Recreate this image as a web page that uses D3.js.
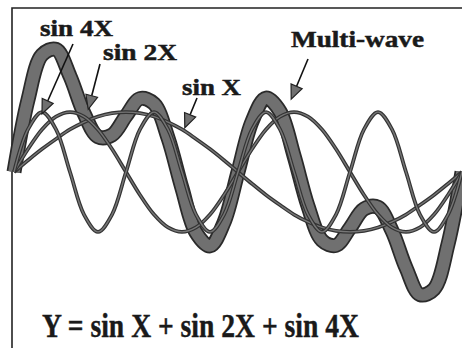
<!DOCTYPE html>
<html>
<head>
<meta charset="utf-8">
<script src="https://cdn.jsdelivr.net/npm/d3@7"></script>
<style>
  body { margin: 0; background: #fff; }
  svg { display: block; }
</style>
</head>
<body>
<div id="viz-container"></div>
<script>
let width = 462;
let height = 348;

// x is counted in sixteenths of pi, 0 .. 2 pi
let steps = [0,1,2,3,4,5,6,7,8,9,10,11,12,13,14,15,16,17,18,19,20,21,22,23,24,25,26,27,28,29,30,31,32];

// values (one unit = height of a single wave)
let sinX = [0,0.21,0.41,0.59,0.76,0.89,0.99,1.05,1.07,1.05,0.99,0.89,0.76,0.59,0.41,0.21,0,
  -0.21,-0.41,-0.59,-0.76,-0.89,-0.99,-1.05,-1.07,-1.05,-0.99,-0.89,-0.76,-0.59,-0.41,-0.21,0];
let sin2X = [0,0.41,0.76,0.99,1.07,0.99,0.76,0.41,0,-0.41,-0.76,-0.99,-1.07,-0.99,-0.76,-0.41,
  0,0.41,0.76,0.99,1.07,0.99,0.76,0.41,0,-0.41,-0.76,-0.99,-1.07,-0.99,-0.76,-0.41,0];
let sin4X = [0,0.76,1.07,0.76,0,-0.76,-1.07,-0.76,0,0.76,1.07,0.76,0,-0.76,-1.07,-0.76,
  0,0.76,1.07,0.76,0,-0.76,-1.07,-0.76,0,0.76,1.07,0.76,0,-0.76,-1.07,-0.76,0];
let multiWave = [0,1.29,2.09,2.19,1.71,1.05,0.63,0.66,1.0,1.31,1.22,0.61,-0.29,-1.08,-1.32,-0.9,
  0,0.9,1.32,1.08,0.29,-0.61,-1.22,-1.31,-1.0,-0.66,-0.63,-1.05,-1.71,-2.19,-2.09,-1.29,0];

let equation = 'Y = sin X + sin 2X + sin 4X';

let viz = d3.select('#viz-container')
  .append('svg')
  .attr('width', width)
  .attr('height', height);

let xScale = d3.scaleLinear().domain([0, 32]).range([14, 462]);
let yScale = d3.scaleLinear().domain([-1, 1]).range([228, 116]);

let line = d3.line()
  .x((d, i) => xScale(steps[i]))
  .y(d => yScale(d))
  .curve(d3.curveCatmullRom.alpha(0.5));

// frame (left and top edges only, like the scan)
viz.append('path')
  .attr('d', 'M12,348 L12,8 L462,8')
  .attr('fill', 'none')
  .attr('stroke', '#222')
  .attr('stroke-width', 1.6);

// thick multi-wave underneath
viz.append('path')
  .attr('d', line(multiWave))
  .attr('fill', 'none')
  .attr('stroke', '#2a2a2a')
  .attr('stroke-width', 15)
  .attr('stroke-linejoin', 'round');
viz.append('path')
  .attr('d', line(multiWave))
  .attr('fill', 'none')
  .attr('stroke', '#707070')
  .attr('stroke-width', 11.5)
  .attr('stroke-linejoin', 'round');

// the three single waves
[sinX, sin2X, sin4X].forEach(function(s){
  viz.append('path')
    .attr('class', 'wave')
    .attr('d', line(s))
    .attr('fill', 'none')
    .attr('stroke', '#333')
    .attr('stroke-width', 3.8);
  viz.append('path')
    .attr('d', line(s))
    .attr('fill', 'none')
    .attr('stroke', '#767676')
    .attr('stroke-width', 1.4);
});

// labels with arrows; tip is given in chart units
let notes = [
  {text: 'sin 4X', x: 40, y: 36, len: 73, from: [73, 44], tipStep: 2.0, tipVal: 1.04},
  {text: 'sin 2X', x: 103, y: 60, len: 74, from: [100, 64], tipStep: 5.3, tipVal: 1.12},
  {text: 'sin X', x: 182, y: 95, len: 59, from: [197, 98], tipStep: 12.2, tipVal: 0.79},
  {text: 'Multi-wave', x: 291, y: 47, len: 133, from: [308, 59], tipStep: 19.8, tipVal: 1.30}
];

notes.forEach(function(n){
  let tx = xScale(n.tipStep), ty = yScale(n.tipVal);
  let a = Math.atan2(ty - n.from[1], tx - n.from[0]);
  let bx = tx - 14 * Math.cos(a), by = ty - 14 * Math.sin(a);
  let px = -Math.sin(a) * 6, py = Math.cos(a) * 6;

  viz.append('line')
    .attr('x1', n.from[0]).attr('y1', n.from[1])
    .attr('x2', bx).attr('y2', by)
    .attr('stroke', '#111')
    .attr('stroke-width', 1.6);

  viz.append('path')
    .attr('d', 'M' + tx + ',' + ty + 'L' + (bx + px) + ',' + (by + py) +
      'L' + (bx - px) + ',' + (by - py) + 'Z')
    .attr('fill', '#707070')
    .attr('stroke', '#222')
    .attr('stroke-width', 1.2);

  viz.append('text')
    .text(n.text)
    .attr('x', n.x)
    .attr('y', n.y)
    .attr('textLength', n.len)
    .attr('lengthAdjust', 'spacingAndGlyphs')
    .attr('font-family', 'Liberation Serif')
    .attr('font-weight', 'bold')
    .attr('font-size', 24)
    .attr('fill', '#1a1a1a')
    .attr('stroke', '#1a1a1a')
    .attr('stroke-width', 0.5);
});

viz.append('text')
  .text(equation)
  .attr('x', 42)
  .attr('y', 337)
  .attr('textLength', 317)
  .attr('lengthAdjust', 'spacingAndGlyphs')
  .attr('font-family', 'Liberation Serif')
  .attr('font-weight', 'bold')
  .attr('font-size', 33)
  .attr('fill', '#1a1a1a')
  .attr('stroke', '#1a1a1a')
  .attr('stroke-width', 0.4);
</script>
</body>
</html>
